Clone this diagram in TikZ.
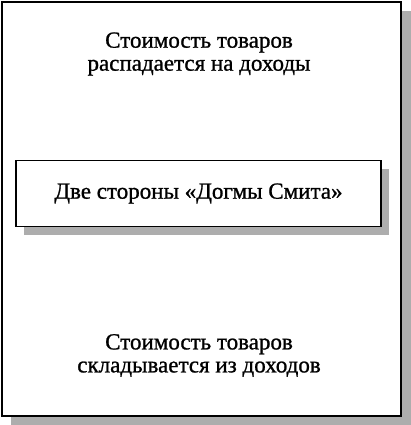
\documentclass[tikz,border=0pt]{standalone}
\usepackage{fontspec}
\setmainfont{Liberation Serif}
\newfontfamily\boxfont[FakeBold=1]{Liberation Serif}
\usepackage{tikz}

\begin{document}
\begin{tikzpicture}[x=1pt,y=-1pt]
        \useasboundingbox (0,0) rectangle (411,425);
        \tikzset{shade box/.style={fill=black!32,draw=none},
                 frame/.style={line width=1.6pt,fill=white},
                 label text/.style={align=center,font=\boxfont\fontsize{23}{23}\selectfont}}
        % outer frame
        \fill[shade box] (11,11) rectangle (411,425);
        \draw[frame] (2,2) rectangle (401,416);
        \node[label text] (upper) at (199,54) {Стоимость товаров\\распадается на доходы};
        % middle box
        \fill[shade box] (24,169) rectangle (389,235);
        \node[frame,draw,minimum width=365pt,minimum height=66pt,label text] (dogma) at (198.5,193.5) {Две стороны «Догмы Смита»};
        \node[label text] (lower) at (199,355.5) {Стоимость товаров\\складывается из доходов};
    \end{tikzpicture}
\end{document}
